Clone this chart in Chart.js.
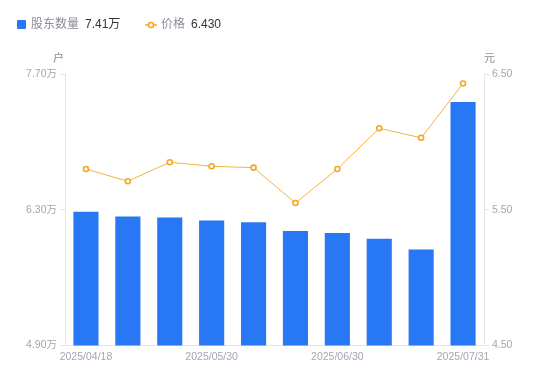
<!DOCTYPE html>
<html>
<head>
<meta charset="utf-8">
<script src="https://cdn.jsdelivr.net/npm/chart.js@4/dist/chart.umd.min.js"></script>
<style>
  html, body { margin: 0; padding: 0; background: #fff; }
  #wrap { position: relative; width: 550px; height: 381px; }
  canvas { position: absolute; left: 0; top: 0; }
  .lg { position: absolute; top: 16px; font: 12px "Liberation Sans", "Noto Sans CJK SC", sans-serif; line-height: 16px; white-space: nowrap; }
  .lab { color: #8a8d99; }
  .val { color: #333; margin-left: 6px; }
  .sq { position: absolute; left: 17px; top: 20px; width: 9px; height: 9px; background: #2878f5; border-radius: 1px; }
  .ttl { position: absolute; top: 49px; font: 11px "Noto Sans CJK SC", sans-serif; color: #8a8d99; }
</style>
</head>
<body>
<div id="wrap">
  <canvas id="c" width="550" height="381"></canvas>
  <div class="sq"></div>
  <div class="lg" style="left:31px"><span class="lab" id="l1"></span><span class="val" id="v1"></span></div>
  <svg style="position:absolute;left:145px;top:20px" width="12" height="10"><line x1="0" y1="5" x2="12" y2="5" stroke="#f5a623" stroke-width="1.5"/><circle cx="6" cy="5" r="2.5" fill="#fff" stroke="#f5a623" stroke-width="1.5"/></svg>
  <div class="lg" style="left:161px"><span class="lab" id="l2"></span><span class="val" id="v2"></span></div>
  <div class="ttl" style="left:53px">户</div>
  <div class="ttl" style="left:484px">元</div>
</div>
<script>
const categories = ['2025/04/18','2025/04/30','2025/05/20','2025/05/30','2025/06/10','2025/06/20','2025/06/30','2025/07/10','2025/07/20','2025/07/31'];
const shownLabels = ['2025/04/18','2025/05/30','2025/06/30','2025/07/31'];
const holders = [6.28, 6.23, 6.22, 6.19, 6.17, 6.08, 6.06, 6.00, 5.89, 7.41];
const prices = [5.80, 5.71, 5.85, 5.82, 5.81, 5.55, 5.80, 6.10, 6.03, 6.43];
const leftTicks = [4.90, 6.30, 7.70];
const rightTicks = [4.50, 5.50, 6.50];
const seriesNames = ['股东数量', '价格'];

document.getElementById('l1').textContent = seriesNames[0];
document.getElementById('v1').textContent = holders[holders.length-1].toFixed(2) + '万';
document.getElementById('l2').textContent = seriesNames[1];
document.getElementById('v2').textContent = prices[prices.length-1].toFixed(3);

const tickFont = { family: '"Liberation Sans", "Noto Sans CJK SC", sans-serif', size: 10.5 };
const tickColor = '#a3a6b2';
const axisColor = '#e3e4ea';

new Chart(document.getElementById('c'), {
  data: {
    labels: categories,
    datasets: [
      {
        type: 'line', label: seriesNames[1], data: prices, yAxisID: 'y1',
        borderColor: '#f7b13a', borderWidth: 1, pointRadius: 2.5, pointBorderWidth: 1.6,
        pointBackgroundColor: '#fff', pointBorderColor: '#f5a623', tension: 0, order: 0
      },
      {
        type: 'bar', label: seriesNames[0], data: holders, yAxisID: 'y',
        backgroundColor: '#2878f5', barPercentage: 0.6, categoryPercentage: 1, order: 1
      }
    ]
  },
  options: {
    responsive: false, animation: false,
    layout: { padding: { top: 74, left: 0, right: 0, bottom: 0 } },
    plugins: { legend: { display: false }, tooltip: { enabled: false } },
    scales: {
      x: {
        grid: { display: true, drawOnChartArea: false, drawTicks: false },
        border: { display: true, color: axisColor },
        ticks: {
          autoSkip: false, maxRotation: 0, padding: 5, color: tickColor, font: tickFont,
          callback: function(v, i) { const l = categories[i]; return shownLabels.includes(l) ? l : ''; }
        },
        afterFit: s => { s.height = 381 - 345.5; }
      },
      y: {
        position: 'left', min: 4.9, max: 7.7,
        grid: { drawOnChartArea: false, drawTicks: true, tickLength: 5, color: axisColor },
        border: { display: true, color: axisColor },
        afterBuildTicks: s => { s.ticks = leftTicks.map(v => ({ value: v })); },
        ticks: { padding: 3, color: tickColor, font: tickFont, callback: v => v.toFixed(2) + '万' },
        afterFit: s => { s.width = 65; }
      },
      y1: {
        position: 'right', min: 4.5, max: 6.5,
        grid: { drawOnChartArea: false, drawTicks: true, tickLength: 5, color: axisColor },
        border: { display: true, color: axisColor },
        afterBuildTicks: s => { s.ticks = rightTicks.map(v => ({ value: v })); },
        ticks: { padding: 3, color: tickColor, font: tickFont, callback: v => v.toFixed(2) },
        afterFit: s => { s.width = 66; }
      }
    }
  }
});
</script>
</body>
</html>
